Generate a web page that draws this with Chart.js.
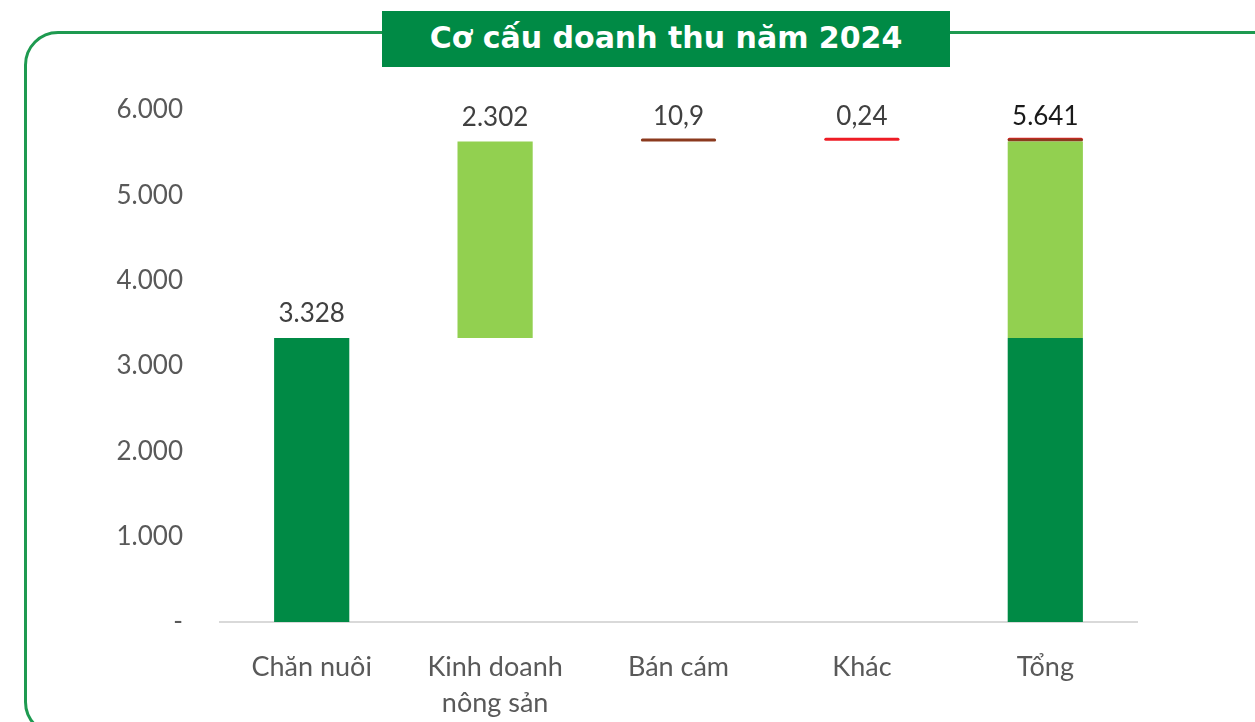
<!DOCTYPE html>
<html>
<head>
<meta charset="utf-8">
<script src="https://cdn.jsdelivr.net/npm/chart.js@4.4.0/dist/chart.umd.min.js"></script>
<style>
  html, body { margin: 0; padding: 0; background: #fff; width: 1255px; height: 722px; overflow: hidden; }
  #frame { position: absolute; left: 24px; top: 31px; width: 1300px; height: 705px; border: 3px solid #1e9a50; border-radius: 34px; box-sizing: border-box; }
  #title { position: absolute; left: 382px; top: 11px; width: 568px; height: 56px; background: #008a45; color: #fff;
           font-family: "DejaVu Sans", sans-serif; font-weight: bold; font-size: 30px; line-height: 54px; text-align: center; }
  #wrap { position: absolute; left: 0; top: 0; width: 1255px; height: 722px; }
</style>
</head>
<body>
<div id="frame"></div>
<div id="title">Cơ cấu doanh thu năm 2024</div>
<div id="wrap"><canvas id="c" width="1255" height="722"></canvas></div>
<script>
const categories = ['Chăn nuôi', ['Kinh doanh', 'nông sản'], 'Bán cám', 'Khác', 'Tổng'];
const componentNames = ['Chăn nuôi', 'Kinh doanh nông sản', 'Bán cám', 'Khác'];
const componentValues = [3328, 2302, 10.9, 0.24];
const totalValue = 5641;
const componentColors = ['#008a45', '#92d050', '#8b3a1e', '#ee1c25'];
const yTicks = [0, 1000, 2000, 3000, 4000, 5000, 6000];

function fmt(v) {
  if (v === 0) return '-';
  const neg = v < 0; v = Math.abs(v);
  let s = (Math.round(v * 100) / 100).toString();
  let [ip, dp] = s.split('.');
  ip = ip.replace(/\B(?=(\d{3})+(?!\d))/g, '.');
  return (neg ? '-' : '') + ip + (dp ? ',' + dp : '');
}

const starts = [];
let acc = 0;
componentValues.forEach(v => { starts.push(acc); acc += v; });
const labelValues = componentValues.concat([totalValue]);
const topValues = componentValues.map((v, i) => starts[i] + v).concat([totalValue]);

const datasets = componentValues.map((v, i) => {
  const data = categories.map(() => null);
  data[i] = [starts[i], starts[i] + v];
  data[categories.length - 1] = [starts[i], starts[i] + v];
  return {
    label: componentNames[i],
    data,
    backgroundColor: componentColors[i],
    grouped: false,
    categoryPercentage: 1,
    barPercentage: 0.41,
    minBarLength: i >= 2 ? 3 : 0,
    borderRadius: i >= 2 ? 1.5 : 0,
    borderSkipped: false
  };
});

const FONT = 'Lato, "Open Sans", sans-serif';

const labelPlugin = {
  id: 'vals',
  afterDatasetsDraw(chart) {
    const ctx = chart.ctx;
    const xs = chart.scales.x, ys = chart.scales.y;
    ctx.save();
    ctx.font = '26px ' + FONT;
    ctx.textAlign = 'center';
    ctx.textBaseline = 'bottom';
    labelValues.forEach((v, i) => {
      const x = xs.getPixelForValue(i);
      const y = ys.getPixelForValue(topValues[i]);
      ctx.fillStyle = i === labelValues.length - 1 ? '#1a1a1a' : '#404040';
      ctx.fillText(fmt(v), x, y - 11);
    });
    ctx.restore();
  }
};

new Chart(document.getElementById('c'), {
  type: 'bar',
  data: { labels: categories, datasets },
  options: {
    responsive: false,
    animation: false,
    layout: { padding: { left: 0, right: 118, top: 110, bottom: 0 } },
    plugins: { legend: { display: false }, tooltip: { enabled: false } },
    scales: {
      x: {
        grid: { display: false, drawTicks: false },
        border: { display: true, color: '#d9d9d9', width: 2 },
        ticks: { color: '#595959', font: { family: FONT, size: 27, lineHeight: 1.33 }, padding: 27, maxRotation: 0, autoSkip: false },
        afterFit(scale) { scale.height = 100; }
      },
      y: {
        min: 0, max: 6000,
        afterBuildTicks(scale) { scale.ticks = yTicks.map(v => ({ value: v })); },
        grid: { display: false, drawTicks: false },
        border: { display: false },
        ticks: { color: '#595959', font: { family: FONT, size: 26 }, padding: 37, callback: v => fmt(v) },
        afterFit(scale) { scale.width = 220; }
      }
    }
  },
  plugins: [labelPlugin]
});
</script>
</body>
</html>
